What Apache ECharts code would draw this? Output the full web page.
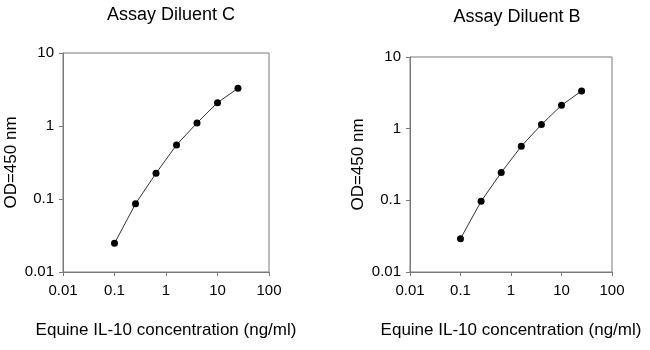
<!DOCTYPE html>
<html>
<head>
<meta charset="utf-8">
<script src="https://cdn.jsdelivr.net/npm/echarts@6/dist/echarts.min.js"></script>
<style>html,body{margin:0;padding:0;background:#fff}#c{width:650px;height:350px}</style>
</head>
<body>
<div id="c"></div>
<script>
const concentrations = [0.1, 0.256, 0.64, 1.6, 4, 10, 25];
const odDiluentC = [0.0247, 0.086, 0.225, 0.55, 1.10, 2.09, 3.28];
const odDiluentB = [0.0292, 0.097, 0.244, 0.568, 1.14, 2.12, 3.36];
const titles = ['Assay Diluent C', 'Assay Diluent B'];
const xName = 'Equine IL-10 concentration (ng/ml)';
const yName = 'OD=450 nm';
const tickLabels = ['0.01', '0.1', '1', '10', '100'];

const font = 'Liberation Sans, Arial, sans-serif';
const axisColor = '#7a7a7a';
function fmt(v) {
  const e = Math.round(Math.log10(v));
  return tickLabels[e + 2] !== undefined ? tickLabels[e + 2] : String(v);
}
const grids = [
  {left: 63, top: 53, width: 206, height: 219},
  {left: 410, top: 57, width: 202, height: 215}
];
function xAxis(i) {
  return {
    type: 'log', logBase: 10, min: 0.01, max: 100, gridIndex: i,
    name: xName, nameLocation: 'middle', nameGap: 50,
    nameTextStyle: {fontFamily: font, fontSize: 17, color: '#000'},
    axisLine: {show: true, lineStyle: {color: axisColor, width: 1}},
    axisTick: {show: true, length: 4, lineStyle: {color: axisColor}},
    axisLabel: {formatter: fmt, fontFamily: font, fontSize: 15, color: '#000', margin: 11},
    splitLine: {show: false}
  };
}
function yAxis(i) {
  return {
    type: 'log', logBase: 10, min: 0.01, max: 10, gridIndex: i,
    name: yName, nameLocation: 'middle', nameGap: 43, nameRotate: 90,
    nameTextStyle: {fontFamily: font, fontSize: 17, color: '#000'},
    axisLine: {show: true, lineStyle: {color: axisColor, width: 1}},
    axisTick: {show: true, length: 4, lineStyle: {color: axisColor}},
    axisLabel: {formatter: fmt, fontFamily: font, fontSize: 15, color: '#000', margin: 9},
    splitLine: {show: false}
  };
}
function series(i, vals) {
  return {
    type: 'line', xAxisIndex: i, yAxisIndex: i,
    data: concentrations.map((c, k) => [c, vals[k]]),
    symbol: 'circle', symbolSize: 7,
    itemStyle: {color: '#000'},
    lineStyle: {color: '#333', width: 1},
    animation: false
  };
}
const chart = echarts.init(document.getElementById('c'), null, {renderer: 'canvas'});
chart.setOption({
  backgroundColor: '#fff',
  animation: false,
  title: [
    {text: titles[0], left: 166, top: 1, textAlign: 'center',
     textStyle: {fontFamily: font, fontSize: 18, fontWeight: 'normal', color: '#000'}},
    {text: titles[1], left: 512, top: 3, textAlign: 'center',
     textStyle: {fontFamily: font, fontSize: 18, fontWeight: 'normal', color: '#000'}}
  ],
  grid: grids.map(g => Object.assign({show: true, borderColor: axisColor, borderWidth: 1, backgroundColor: 'transparent'}, g)),
  xAxis: [xAxis(0), xAxis(1)],
  yAxis: [yAxis(0), yAxis(1)],
  series: [series(0, odDiluentC), series(1, odDiluentB)]
});
</script>
</body>
</html>
